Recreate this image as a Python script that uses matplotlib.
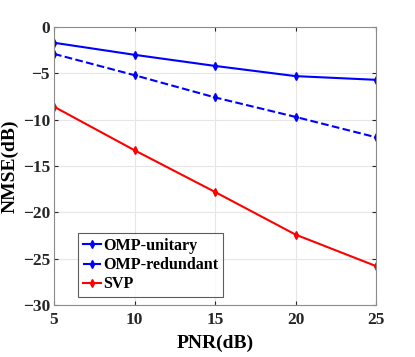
import matplotlib
matplotlib.use("Agg")
import matplotlib.pyplot as plt

pnr = [5, 10, 15, 20, 25]
omp_unitary = [-1.7, -3.0, -4.2, -5.3, -5.7]
omp_redundant = [-2.9, -5.2, -7.6, -9.7, -11.9]
svp = [-8.6, -13.3, -17.8, -22.4, -25.8]

plt.rcParams["font.family"] = ["Liberation Serif", "DejaVu Serif"]
plt.rcParams["font.weight"] = "bold"

fig = plt.figure(figsize=(4.15, 3.57), dpi=100)
ax = fig.add_axes([54 / 415, 52 / 357, 322 / 415, 278 / 357])

ax.plot(pnr, omp_unitary, "-", color="#0000ff", lw=1.5, marker="d", ms=4,
        label="OMP-unitary")
ax.plot(pnr, omp_redundant, "--", color="#0000ff", lw=1.5, marker="d", ms=4,
        label="OMP-redundant")
ax.plot(pnr, svp, "-", color="#ff0000", lw=1.5, marker="d", ms=4, label="SVP")

ax.set_xlim(5, 25)
ax.set_ylim(-30, 0)
ax.set_xticks(pnr)
ax.set_yticks(range(-30, 1, 5))
ax.grid(True, color="#e6e6e6", lw=0.8)
ax.set_axisbelow(True)
ax.tick_params(direction="in", top=True, right=True, labelsize=12.5,
               colors="#262626", length=3, pad=3)
ax.tick_params(axis="x", pad=5)
for lab in ax.get_xticklabels() + ax.get_yticklabels():
    lab.set_fontweight("bold")
for s in ax.spines.values():
    s.set_color("#8c8c8c")

ax.set_xlabel("PNR(dB)", fontsize=14, fontweight="bold", labelpad=5)
ax.set_ylabel("NMSE(dB)", fontsize=14, fontweight="bold", labelpad=3)

leg = ax.legend(loc="lower left", bbox_to_anchor=(0.075, 0.028), fontsize=11.6,
                frameon=True, fancybox=False, handlelength=1.1,
                handletextpad=0.15, borderpad=0.3, labelspacing=0.2,
                borderaxespad=0)
leg.get_frame().set_edgecolor("#333333")
leg.get_frame().set_linewidth(0.8)
for t in leg.get_texts():
    t.set_fontweight("bold")

fig.savefig("out.png", dpi=100)
